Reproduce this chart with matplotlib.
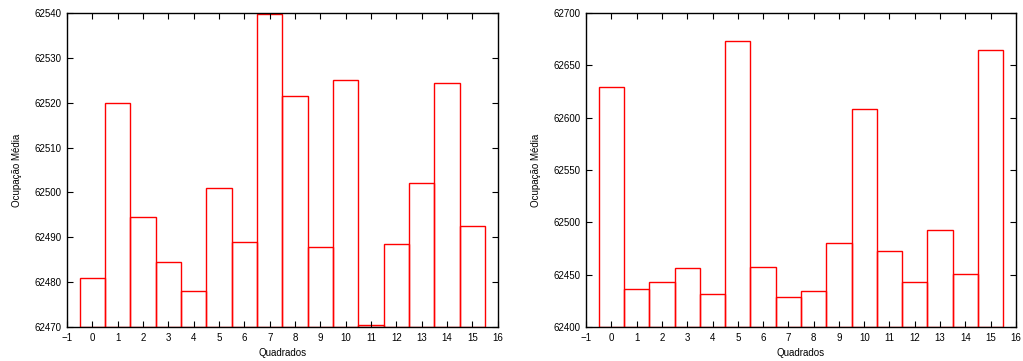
import matplotlib
matplotlib.use('Agg')
import matplotlib.pyplot as plt
import numpy as np

plt.rcParams['font.family'] = ['Liberation Sans', 'DejaVu Sans']
plt.rcParams['font.size'] = 7

quadrados = np.arange(16)
ocup_left = [62480.9, 62519.9, 62494.6, 62484.4, 62478.0, 62501.1, 62488.9, 62539.8,
             62521.5, 62487.8, 62525.0, 62470.4, 62488.6, 62502.1, 62524.5, 62492.5]
ocup_right = [62629.6, 62436.6, 62443.0, 62456.4, 62431.8, 62672.9, 62457.3, 62428.7,
              62434.4, 62480.6, 62608.0, 62472.3, 62442.7, 62492.4, 62450.3, 62664.3]

xticks = np.arange(-1, 17)


def draw_panel(ax, vals, ylo, yhi, ystep):
    vals = np.asarray(vals)
    ax.bar(quadrados, vals - ylo, bottom=ylo, width=1.0, fill=False,
           edgecolor='#ff0000', linewidth=1.0)
    ax.set_xlim(-1, 16)
    ax.set_ylim(ylo, yhi)
    ax.set_xticks(xticks)
    ax.set_yticks(np.arange(ylo, yhi + 1, ystep))
    ax.tick_params(direction='in', top=True, right=True, length=4, width=0.8,
                   labelsize=7, pad=4)
    for s in ax.spines.values():
        s.set_linewidth(1.0)
    ax.set_xlabel('Quadrados', labelpad=4)
    ax.set_ylabel('Ocupação Média', labelpad=9)


fig = plt.figure(figsize=(10.23, 3.61), dpi=100)
ax1 = fig.add_axes([0.0655, 0.094, 0.421, 0.870])
ax2 = fig.add_axes([0.573, 0.094, 0.420, 0.870])
draw_panel(ax1, ocup_left, 62470, 62540, 10)
draw_panel(ax2, ocup_right, 62400, 62700, 50)

fig.savefig('out.png', dpi=100)
